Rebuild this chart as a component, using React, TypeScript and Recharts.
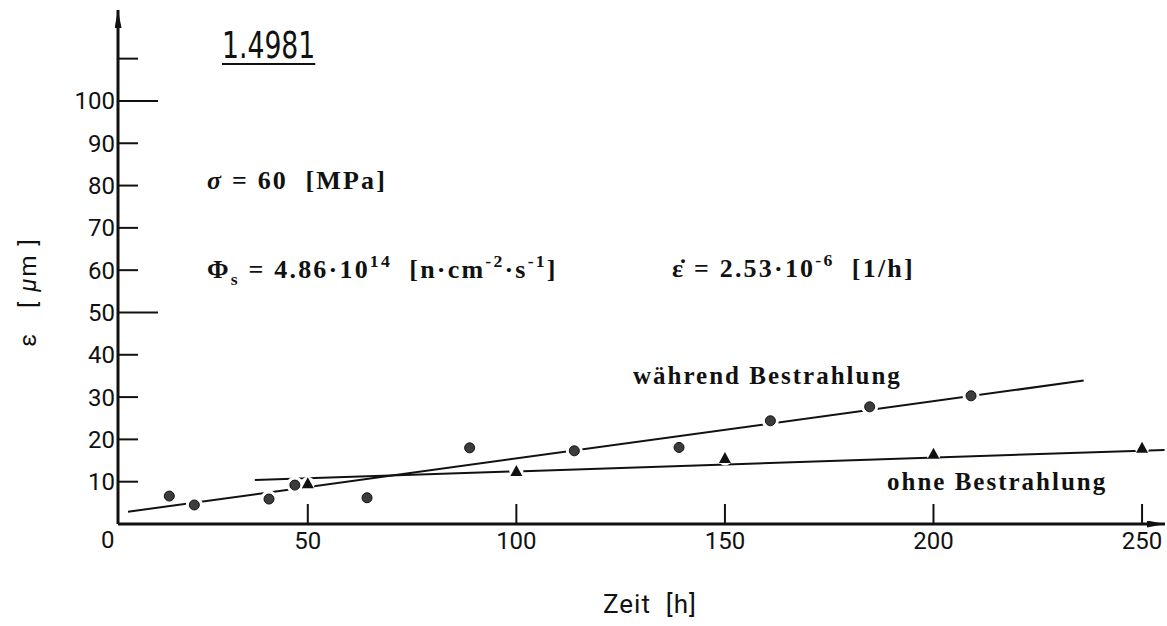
import React from "react";
import { ComposedChart, Line, Scatter, XAxis, YAxis } from "recharts";

// measured points: während Bestrahlung (circles)
const irrTime = [16.8, 22.8, 40.7, 46.9, 64.2, 88.8, 113.9, 139.0, 160.9, 184.7, 209.0];
const irrStrain = [6.6, 4.5, 5.9, 9.2, 6.2, 18.0, 17.3, 18.1, 24.4, 27.7, 30.3];

// ohne Bestrahlung (triangles)
const refTime = [50, 100, 150, 200, 250];
const refStrain = [9.5, 12.4, 15.5, 16.5, 17.9];

// hand drawn fit lines (end points)
const irrFitTime = [6.9, 236];
const irrFitStrain = [2.9, 33.9];
const refFitTime = [37.3, 255.4];
const refFitStrain = [10.4, 17.5];

const xTicks = [50, 100, 150, 200, 250];
const yTicks = [10, 20, 30, 40, 50, 60, 70, 80, 90, 100, 110];
const yLabels = ["10", "20", "30", "40", "50", "60", "70", "80", "90", "100", ""];
const yLongTicks = [50, 100];

const toPoints = (xs: number[], ys: number[]) => xs.map((x, i) => ({ x, y: ys[i] }));

const irrData = toPoints(irrTime, irrStrain);
const refData = toPoints(refTime, refStrain);
const irrFit = toPoints(irrFitTime, irrFitStrain);
const refFit = toPoints(refFitTime, refFitStrain);

const INK = "#111";
const sans = "Roboto, 'DejaVu Sans', sans-serif";

const YTick = (props: any) => {
  const { x, y, payload } = props;
  const i = yTicks.indexOf(payload.value);
  const len = yLongTicks.includes(payload.value) ? 40 : 20;
  return (
    <g>
      <line x1={x} x2={x + len} y1={y} y2={y} stroke={INK} strokeWidth={2} />
      <text x={x - 3} y={y + 8.5} textAnchor="end" fontFamily={sans} fontSize={24} fill={INK}>
        {yLabels[i]}
      </text>
    </g>
  );
};

const XTick = (props: any) => {
  const { x, y, payload } = props;
  return (
    <g>
      <line x1={x} x2={x} y1={y - 20} y2={y} stroke={INK} strokeWidth={2} />
      <text x={x} y={y + 24.5} textAnchor="middle" fontFamily={sans} fontSize={24} fill={INK}>
        {payload.value}
      </text>
    </g>
  );
};

const Dot = (props: any) => {
  const { cx, cy } = props;
  return (
    <g>
      <circle cx={cx} cy={cy} r={8.5} fill="#fff" />
      <circle cx={cx} cy={cy} r={5} fill="#3c3c3c" stroke={INK} strokeWidth={1} />
    </g>
  );
};

const Tri = (props: any) => {
  const { cx, cy } = props;
  return (
    <g>
      <circle cx={cx} cy={cy} r={7} fill="#fff" />
      <path d={`M${cx},${cy - 6.5} L${cx + 6},${cy + 4.5} L${cx - 6},${cy + 4.5} Z`} fill={INK} />
    </g>
  );
};

const serif: React.CSSProperties = {
  position: "absolute",
  fontFamily: "'Liberation Serif', 'Times New Roman', serif",
  fontWeight: 700,
  fontSize: 26,
  letterSpacing: 2.2,
  lineHeight: 1,
  whiteSpace: "pre",
  color: INK,
};
const sup: React.CSSProperties = { fontSize: "0.68em", verticalAlign: "0.6em", lineHeight: 0 };
const sub: React.CSSProperties = { fontSize: "0.68em", verticalAlign: "-0.4em", lineHeight: 0 };

export default function App() {
  return (
    <div style={{ position: "absolute", left: 0, top: 0, width: 1167, height: 626, background: "#fff" }}>
      <ComposedChart width={1167} height={626} margin={{ top: 10, right: 2, bottom: 72, left: 58 }}>
        <defs>
          <marker
            id="axisArrow"
            viewBox="0 0 18 7"
            refX={18}
            refY={3.5}
            markerWidth={18}
            markerHeight={7}
            markerUnits="userSpaceOnUse"
            orient="auto-start-reverse"
          >
            <path d="M0,0 L18,3.5 L0,7 Z" fill={INK} />
          </marker>
        </defs>
        <XAxis
          type="number"
          dataKey="x"
          domain={[4.5, 255.5]}
          allowDataOverflow
          ticks={xTicks}
          tick={<XTick />}
          tickSize={0}
          tickMargin={0}
          height={30}
          axisLine={{ stroke: INK, strokeWidth: 3, markerEnd: "url(#axisArrow)" }}
        />
        <YAxis
          type="number"
          dataKey="y"
          domain={[0, 121.5]}
          allowDataOverflow
          ticks={yTicks}
          tick={<YTick />}
          tickSize={0}
          tickMargin={0}
          width={60}
          axisLine={{ stroke: INK, strokeWidth: 3, markerStart: "url(#axisArrow)" }}
        />
        <Line data={irrFit} dataKey="y" stroke={INK} strokeWidth={2} dot={false} isAnimationActive={false} />
        <Line data={refFit} dataKey="y" stroke={INK} strokeWidth={2} dot={false} isAnimationActive={false} />
        <Scatter data={irrData} dataKey="y" shape={<Dot />} isAnimationActive={false} />
        <Scatter data={refData} dataKey="y" shape={<Tri />} isAnimationActive={false} />
      </ComposedChart>

      <div
        style={{
          position: "absolute",
          left: 222,
          top: 26,
          fontFamily: "'Liberation Sans Narrow', 'DejaVu Sans Condensed', Roboto, sans-serif",
          fontSize: 38,
          lineHeight: 1,
          color: INK,
          textDecoration: "underline",
          textDecorationThickness: 2,
          textUnderlineOffset: 5,
          transform: "scaleX(0.78)",
          transformOrigin: "left top",
        }}
      >
        1.4981
      </div>

      <div style={{ ...serif, left: 207, top: 168 }}>
        <i>σ</i> = 60  [MPa]
      </div>
      <div style={{ ...serif, left: 207, top: 257 }}>
        Φ<span style={sub}>s</span> = 4.86·10<span style={sup}>14</span>  [n·cm<span style={sup}>-2</span>·s
        <span style={sup}>-1</span>]
      </div>
      <div style={{ ...serif, left: 672, top: 256 }}>
        ε̇ = 2.53·10<span style={sup}>-6</span>  [1/h]
      </div>
      <div style={{ ...serif, fontSize: 25, letterSpacing: 2, left: 633, top: 363 }}>während Bestrahlung</div>
      <div style={{ ...serif, fontSize: 25, letterSpacing: 2, left: 887, top: 469 }}>ohne Bestrahlung</div>

      <div
        style={{
          position: "absolute",
          left: 28,
          top: 292,
          transform: "translate(-50%, -50%) rotate(-90deg)",
          fontFamily: sans,
          fontSize: 24,
          letterSpacing: 2,
          whiteSpace: "pre",
          color: INK,
          lineHeight: 1,
        }}
      >
        ε   [ <i>μ</i>m ]
      </div>
      <div style={{ position: "absolute", left: 101, top: 528, fontFamily: sans, fontSize: 24, lineHeight: 1, color: INK }}>
        0
      </div>
      <div
        style={{
          position: "absolute",
          left: 603,
          top: 591,
          fontFamily: sans,
          fontSize: 26,
          letterSpacing: 1,
          lineHeight: 1,
          whiteSpace: "pre",
          color: INK,
        }}
      >
        Zeit  [h]
      </div>
    </div>
  );
}
